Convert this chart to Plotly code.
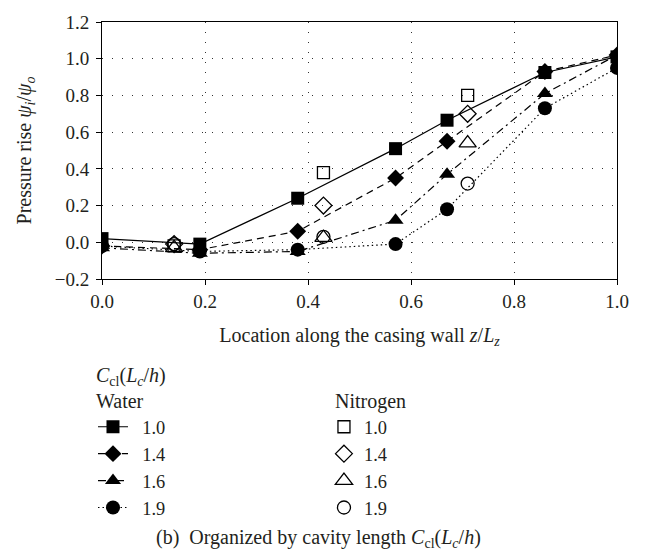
import plotly.graph_objects as go

# ---- data ----
water_x = [0.0, 0.19, 0.38, 0.57, 0.67, 0.86, 1.0]
water_10 = [0.02, -0.01, 0.24, 0.51, 0.665, 0.925, 1.01]
water_14 = [-0.02, -0.04, 0.06, 0.35, 0.55, 0.93, 1.02]
water_16 = [-0.03, -0.06, -0.05, 0.12, 0.37, 0.81, 1.02]
water_19 = [-0.02, -0.05, -0.04, -0.01, 0.18, 0.73, 0.95]

nitro_x = [0.14, 0.43, 0.71]
nitro_10 = [-0.02, 0.38, 0.80]
nitro_14 = [-0.01, 0.20, 0.70]
nitro_16 = [-0.03, 0.025, 0.54]
nitro_19 = [-0.01, 0.03, 0.32]

labels = ["1.0", "1.4", "1.6", "1.9"]
y_ticks = [-0.2, 0.0, 0.2, 0.4, 0.6, 0.8, 1.0, 1.2]
x_ticks = [0.0, 0.2, 0.4, 0.6, 0.8, 1.0]

FONT = "Liberation Serif"
FS = 19
FT = 20
TXT = "#231f20"
NB = "\u00a0\u00a0"

water_series = [water_10, water_14, water_16, water_19]
nitro_series = [nitro_10, nitro_14, nitro_16, nitro_19]
water_sym = ["square", "diamond", "triangle-up", "circle"]
nitro_sym = ["square-open", "diamond-open", "triangle-up-open", "circle-open"]
water_size = [13, 13, 14, 14]
nitro_size = [12, 13, 15, 13]
dashes = ["solid", "7px,5px", "8px,4px,2px,4px", "1.5px,3px"]

fig = go.Figure()
for i in range(4):
    fig.add_trace(go.Scatter(
        x=water_x, y=water_series[i], name=NB + labels[i], mode="lines+markers",
        line=dict(color="black", width=1.2, dash=dashes[i]),
        marker=dict(symbol=water_sym[i], size=water_size[i], color="black"),
        legend="legend", legendgroup="w",
    ))
for i in range(4):
    fig.add_trace(go.Scatter(
        x=nitro_x, y=nitro_series[i], name=labels[i], mode="markers",
        marker=dict(symbol=nitro_sym[i], size=nitro_size[i], color="black",
                    line=dict(width=1.3, color="black")),
        legend="legend2", legendgroup="n",
    ))

axis_common = dict(
    showline=True, linecolor="black", linewidth=1, mirror=True,
    ticks="outside", ticklen=5, tickcolor="black", tickwidth=1,
    showgrid=True, gridcolor="#333333", gridwidth=1, griddash="1px,9px",
    zeroline=False, tickformat=".1f",
    tickfont=dict(family=FONT, size=FS, color=TXT),
)

fig.update_xaxes(range=[0, 1], tickvals=x_ticks, **axis_common,
                 title=dict(text="Location along the casing wall <i>z</i>/<i>L<sub>z</sub></i>",
                            font=dict(family=FONT, size=FT, color=TXT), standoff=17))
fig.update_yaxes(range=[-0.2, 1.2], tickvals=y_ticks, ticklabelstandoff=3, **axis_common,
                 title=dict(text="Pressure rise <i>ψ<sub>i</sub></i>/<i>ψ<sub>o</sub></i>",
                            font=dict(family=FONT, size=FT, color=TXT), standoff=17))

legend_common = dict(
    orientation="v", xanchor="left", yanchor="top", bgcolor="rgba(0,0,0,0)",
    font=dict(family=FONT, size=18.4, color=TXT), tracegroupgap=0,
    itemsizing="trace",
)

fig.update_layout(
    width=648, height=560,
    margin=dict(l=102, r=31, t=14, b=281),
    paper_bgcolor="white", plot_bgcolor="white",
    font=dict(family=FONT, size=FT, color=TXT),
    legend=dict(x=-0.0175, y=-0.503, **legend_common),
    legend2=dict(x=0.431, y=-0.503, **legend_common),
    annotations=[
        dict(text="<i>C</i><sub>cl</sub>(<i>L<sub>c</sub></i>/<i>h</i>)", xref="paper", yref="paper",
             x=-0.016, y=(279 - 380) / 265, xanchor="left", yanchor="middle", showarrow=False),
        dict(text="Water", xref="paper", yref="paper",
             x=-0.016, y=(279 - 405) / 265, xanchor="left", yanchor="middle", showarrow=False),
        dict(text="Nitrogen", xref="paper", yref="paper",
             x=(333 - 102) / 515, y=(279 - 405) / 265, xanchor="left", yanchor="middle", showarrow=False),
        dict(text="(b)  Organized by cavity length <i>C</i><sub>cl</sub>(<i>L<sub>c</sub></i>/<i>h</i>)",
             xref="paper", yref="paper", x=(318 - 102) / 515, y=(279 - 547) / 265,
             xanchor="center", yanchor="middle", showarrow=False),
    ],
)

fig.write_html("out.html")
